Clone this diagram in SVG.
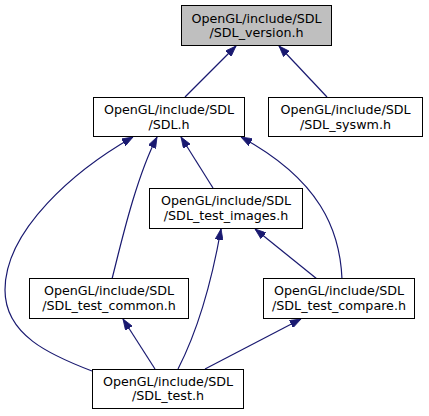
<svg xmlns="http://www.w3.org/2000/svg" width="429" height="416" viewBox="0 0 429 416">
<style>
.box{fill:#ffffff;stroke:#000000;stroke-width:1}
.cur{fill:#bfbfbf;stroke:#000000;stroke-width:1}
text{font-family:"DejaVu Sans",sans-serif;font-size:12.7px;text-anchor:middle;fill:#000000}
.edge{fill:none;stroke:#191970;stroke-width:1.2;marker-end:url(#arr)}
</style>
<defs>
<marker id="arr" viewBox="0 0 11 8" refX="11" refY="4" markerWidth="11" markerHeight="8" markerUnits="userSpaceOnUse" orient="auto">
<polygon points="0,0 11,4 0,8" fill="#191970" stroke="#191970" stroke-width="0.8"/>
</marker>
</defs>
<rect width="429" height="416" fill="#ffffff"/>
<g id="edges">
<path class="edge" d="M185,97 L236,46"/>
<path class="edge" d="M327,97 L279,46"/>
<path class="edge" d="M213,188 L181,137"/>
<path class="edge" d="M112,279 C120,248 135,180 157,137"/>
<path class="edge" d="M92,371 C50,355 5,335 5,290 C5,230 75,170 133,137"/>
<path class="edge" d="M342,279 C340,230 320,180 241,137"/>
<path class="edge" d="M317,279 L255,229"/>
<path class="edge" d="M178,369 C198,330 212,280 221,229"/>
<path class="edge" d="M155,369 L123,319"/>
<path class="edge" d="M205,369 L301,319"/>
</g>
<g id="SDL_version">
<rect class="cur" x="181.5" y="5.5" width="150" height="40"/>
<text x="256.5" y="22.5">OpenGL/include/SDL</text>
<text x="256.5" y="37">/SDL_version.h</text>
</g>
<g id="SDL">
<rect class="box" x="93.5" y="97.5" width="151" height="39"/>
<text x="169" y="114">OpenGL/include/SDL</text>
<text x="169" y="128.5">/SDL.h</text>
</g>
<g id="SDL_syswm">
<rect class="box" x="268.5" y="97.5" width="154" height="39"/>
<text x="345.5" y="114">OpenGL/include/SDL</text>
<text x="345.5" y="128.5">/SDL_syswm.h</text>
</g>
<g id="SDL_test_images">
<rect class="box" x="149.5" y="188.5" width="153" height="40"/>
<text x="226" y="205">OpenGL/include/SDL</text>
<text x="226" y="219.5">/SDL_test_images.h</text>
</g>
<g id="SDL_test_common">
<rect class="box" x="29.5" y="278.5" width="159" height="40"/>
<text x="109" y="295">OpenGL/include/SDL</text>
<text x="109" y="309.5">/SDL_test_common.h</text>
</g>
<g id="SDL_test_compare">
<rect class="box" x="263.5" y="278.5" width="151" height="40"/>
<text x="339" y="295">OpenGL/include/SDL</text>
<text x="339" y="309.5">/SDL_test_compare.h</text>
</g>
<g id="SDL_test">
<rect class="box" x="92.5" y="369.5" width="151" height="39"/>
<text x="168" y="385.5">OpenGL/include/SDL</text>
<text x="168" y="400">/SDL_test.h</text>
</g>
</svg>
